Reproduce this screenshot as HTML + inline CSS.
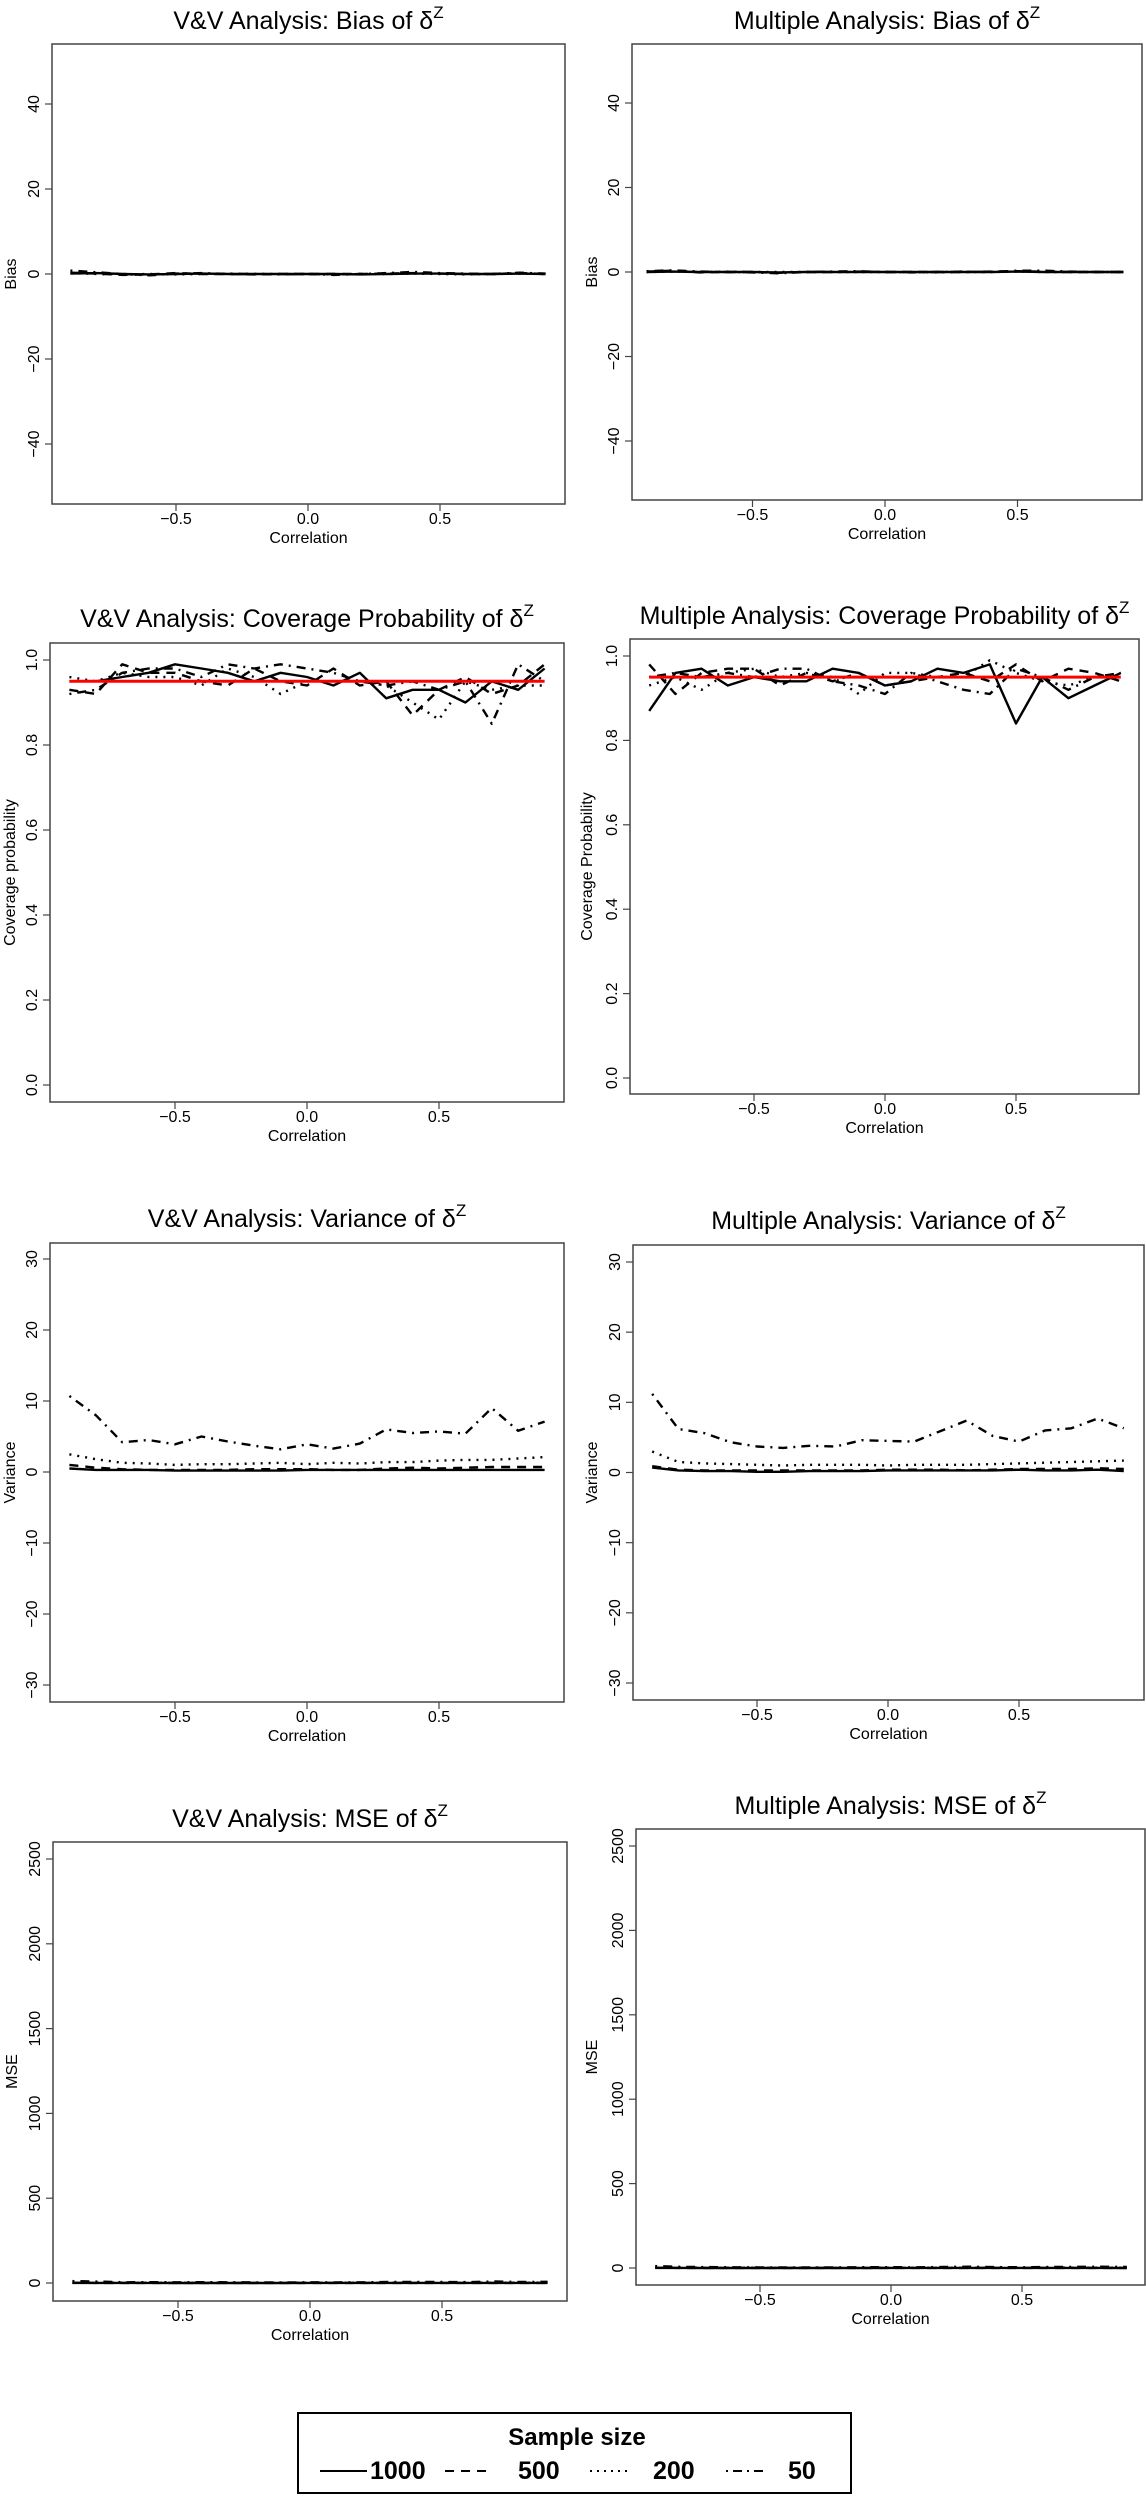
<!DOCTYPE html>
<html><head><meta charset="utf-8"><style>
html,body{margin:0;padding:0;background:#fff;}
svg{display:block;font-family:"Liberation Sans",Arial,sans-serif;}
</style></head><body>
<svg id="fig" width="1146" height="2500" viewBox="0 0 1146 2500" xmlns="http://www.w3.org/2000/svg"></svg>
<script>
// ---- data ----
const correlations = [-0.9,-0.8,-0.7,-0.6,-0.5,-0.4,-0.3,-0.2,-0.1,0,0.1,0.2,0.3,0.4,0.5,0.6,0.7,0.8,0.9];
const sampleSizes = ["1000","500","200","50"];

const vvBias1000 = [0.1,0.2,0,-0.1,0,0.1,0,0,0,0,0,-0.1,0,0.1,0.1,0,0,0.1,0];
const vvBias500  = [0.3,0.1,-0.2,-0.1,0.2,0,0,-0.1,0,0,0,0,0.1,0.2,0.1,0,0,0.2,0];
const vvBias200  = [0.2,0,-0.1,0,-0.1,0,0.1,0,0,0,-0.1,0,0,0.1,0,-0.1,0,0.1,0];
const vvBias50   = [0.8,0.4,0,-0.3,0.1,0.2,0,0,-0.1,0,-0.2,0,0.2,0.5,0.2,0.1,0,0.3,0.1];
const mBias1000 = [0,0.1,0,0,0,-0.1,0,0,0,0,0,0,0,0,0.1,0,0,0,0];
const mBias500  = [0.1,0.3,-0.1,0,0,-0.2,0,0,0.1,0,0,0,0,0.1,0.2,0.1,0,0,0];
const mBias200  = [0,0.1,0,0.1,0,0,0,0,0,0,0,-0.1,0,0,0.1,0,0,0,0];
const mBias50   = [0.2,0.4,0.1,0,-0.1,-0.3,0,0.1,0.2,0,-0.1,0,0.1,0,0.3,0.3,0.1,0,0];

const vvCov1000 = [0.95,0.95,0.96,0.97,0.99,0.98,0.97,0.95,0.97,0.96,0.94,0.97,0.91,0.93,0.93,0.90,0.95,0.93,0.98];
const vvCov500  = [0.93,0.92,0.99,0.97,0.97,0.95,0.94,0.98,0.95,0.94,0.98,0.94,0.95,0.87,0.93,0.96,0.92,0.94,0.99];
const vvCov200  = [0.96,0.95,0.97,0.96,0.96,0.94,0.98,0.96,0.92,0.95,0.95,0.95,0.94,0.90,0.86,0.95,0.93,0.94,0.94];
const vvCov50   = [0.92,0.93,0.97,0.98,0.98,0.96,0.99,0.98,0.99,0.98,0.97,0.95,0.94,0.95,0.93,0.95,0.85,0.99,0.95];
const mCov1000 = [0.87,0.96,0.97,0.93,0.95,0.94,0.94,0.97,0.96,0.93,0.94,0.97,0.96,0.98,0.84,0.95,0.90,0.93,0.96];
const mCov500  = [0.98,0.91,0.96,0.97,0.97,0.93,0.96,0.94,0.96,0.93,0.94,0.95,0.96,0.94,0.98,0.94,0.97,0.96,0.94];
const mCov200  = [0.93,0.95,0.92,0.96,0.97,0.95,0.96,0.95,0.91,0.96,0.96,0.95,0.95,0.99,0.96,0.94,0.93,0.95,0.95];
const mCov50   = [0.95,0.96,0.95,0.96,0.95,0.97,0.97,0.94,0.93,0.91,0.96,0.94,0.92,0.91,0.97,0.95,0.92,0.95,0.96];
const nominalCoverage = 0.95;

const vvVar1000 = [0.5,0.3,0.3,0.3,0.2,0.2,0.2,0.2,0.2,0.3,0.3,0.3,0.3,0.3,0.3,0.3,0.3,0.3,0.3];
const vvVar500  = [1.0,0.6,0.4,0.3,0.3,0.3,0.3,0.4,0.4,0.4,0.3,0.3,0.5,0.6,0.5,0.6,0.7,0.7,0.7];
const vvVar200  = [2.5,1.8,1.3,1.2,1.0,1.1,1.1,1.2,1.3,1.1,1.3,1.2,1.4,1.4,1.6,1.7,1.7,1.9,2.1];
const vvVar50   = [10.7,8.0,4.2,4.5,3.9,5.0,4.3,3.7,3.2,3.9,3.3,4.0,6.0,5.5,5.7,5.4,9.0,5.8,7.1];
const mVar1000 = [0.7,0.3,0.2,0.2,0.1,0.1,0.2,0.2,0.2,0.3,0.3,0.3,0.3,0.3,0.4,0.3,0.3,0.4,0.2];
const mVar500  = [0.9,0.4,0.3,0.3,0.3,0.3,0.3,0.3,0.3,0.4,0.4,0.4,0.3,0.4,0.5,0.5,0.5,0.6,0.5];
const mVar200  = [3.0,1.5,1.3,1.2,1.1,1.0,1.1,1.1,1.1,1.0,1.1,1.1,1.1,1.2,1.3,1.4,1.5,1.6,1.7];
const mVar50   = [11.2,6.2,5.6,4.3,3.7,3.5,3.8,3.7,4.6,4.5,4.4,5.9,7.4,5.2,4.4,6.0,6.3,7.7,6.3];

const vvMse1000 = [0.5,0.3,0.3,0.3,0.2,0.2,0.2,0.2,0.2,0.3,0.3,0.3,0.3,0.3,0.3,0.3,0.3,0.3,0.3];
const vvMse500  = [1.1,0.6,0.4,0.3,0.3,0.3,0.3,0.4,0.4,0.4,0.3,0.3,0.5,0.6,0.5,0.6,0.7,0.7,0.7];
const vvMse200  = [2.6,1.8,1.3,1.2,1.0,1.1,1.1,1.2,1.3,1.1,1.3,1.2,1.4,1.4,1.6,1.7,1.7,1.9,2.1];
const vvMse50   = [11.4,8.2,4.2,4.6,3.9,5.0,4.3,3.7,3.2,3.9,3.3,4.0,6.0,5.8,5.8,5.4,9.1,5.9,7.1];
const mMse1000 = [0.7,0.3,0.2,0.2,0.1,0.1,0.2,0.2,0.2,0.3,0.3,0.3,0.3,0.3,0.4,0.3,0.3,0.4,0.2];
const mMse500  = [0.9,0.5,0.3,0.3,0.3,0.3,0.3,0.3,0.3,0.4,0.4,0.4,0.3,0.4,0.5,0.5,0.5,0.6,0.5];
const mMse200  = [3.0,1.5,1.3,1.2,1.1,1.0,1.1,1.1,1.1,1.0,1.1,1.1,1.1,1.2,1.3,1.4,1.5,1.6,1.7];
const mMse50   = [11.3,6.3,5.6,4.3,3.7,3.6,3.8,3.7,4.6,4.5,4.4,5.9,7.5,5.2,4.4,6.0,6.3,7.7,6.3];

const biasTicks = [-40,-20,0,20,40];
const covTicks = [0,0.2,0.4,0.6,0.8,1.0];
const varTicks = [-30,-20,-10,0,10,20,30];
const mseTicks = [0,500,1000,1500,2000,2500];
const xTicks = [-0.5,0,0.5];

// ---- drawing ----
const NS = "http://www.w3.org/2000/svg";
const svg = document.getElementById("fig");
function el(tag, attrs, parent){
  const e = document.createElementNS(NS, tag);
  for (const k in attrs) e.setAttribute(k, attrs[k]);
  (parent||svg).appendChild(e);
  return e;
}
const DASH = ["", "9 7", "2 6", "2 6 9 6"];
function fmt(v, dec){ const s = v.toFixed(dec); return s.replace("-", "\u2212"); }

function panel(cfg){
  const g = el("g", {});
  
  
  const sx = v => cfg.x0 + v * cfg.xPerUnit;
  const sy = v => cfg.yA + (v - cfg.vA) * (cfg.yB - cfg.yA) / (cfg.vB - cfg.vA);
  // title
  const t = el("text", {x:(cfg.l+cfg.r)/2, y:cfg.titleY, "text-anchor":"middle", "font-size":25, fill:"#000"}, g);
  
  
  t.appendChild(document.createTextNode(cfg.title + " \u03b4"));
  const sup = el("tspan", {"font-size":17, dy:-11}, t);
  sup.textContent = "Z";
  // box
  const box = el("rect", {x:cfg.l, y:cfg.t, width:cfg.r-cfg.l, height:cfg.b-cfg.t, fill:"none", stroke:"#444", "stroke-width":1.5}, g);
  
  
  // y ticks
  cfg.yTicks.forEach(v => {
    const y = sy(v);
    const tk = el("line", {x1:cfg.l-7, x2:cfg.l, y1:y, y2:y, stroke:"#444", "stroke-width":1.2}, g);
    
    
    const lb = el("text", {x:0, y:0, transform:`translate(${cfg.l-13},${y}) rotate(-90)`, "text-anchor":"middle", "font-size":16}, g);
    
    
    lb.textContent = fmt(v, cfg.yDec);
  });
  // x ticks
  xTicks.forEach(v => {
    const x = sx(v);
    const tk = el("line", {x1:x, x2:x, y1:cfg.b, y2:cfg.b+7, stroke:"#444", "stroke-width":1.2}, g);
    
    
    const lb = el("text", {x:x, y:cfg.b+20, "text-anchor":"middle", "font-size":16}, g);
    
    
    lb.textContent = fmt(v, 1);
  });
  const xl = el("text", {x:(cfg.l+cfg.r)/2, y:cfg.b+39, "text-anchor":"middle", "font-size":16}, g);
  
  
  xl.textContent = "Correlation";
  const yl = el("text", {x:0, y:0, transform:`translate(${cfg.ylabX},${(cfg.t+cfg.b)/2}) rotate(-90)`, "text-anchor":"middle", "font-size":16}, g);
  
  
  yl.textContent = cfg.ylab;
  // series (draw 50 first so solid on top)
  for (let s = cfg.series.length-1; s >= 0; s--){
    const vals = cfg.series[s];
    const pts = correlations.map((c,i) => sx(c).toFixed(1)+","+sy(vals[i]).toFixed(1)).join(" ");
    const pl = el("polyline", {points:pts, fill:"none", stroke:"#000", "stroke-width":2.4, "stroke-linejoin":"round"}, g);
    if (DASH[s]) pl.setAttribute("stroke-dasharray", DASH[s]);
    
    
  }
  if (cfg.ref !== undefined){
    const x1 = sx(correlations[0]), x2 = sx(correlations[correlations.length-1]);
    const rl = el("line", {x1:x1, x2:x2, y1:sy(cfg.ref), y2:sy(cfg.ref), stroke:"#f00", "stroke-width":3}, g);
    
    
  }
}

panel({name:"vv-bias-panel", title:"V&V Analysis: Bias of", ylab:"Bias", l:52,r:565,t:44,b:504, x0:308,xPerUnit:264, yA:104,vA:40,yB:444,vB:-40, yTicks:biasTicks, yDec:0, titleY:29, ylabX:16, series:[vvBias1000,vvBias500,vvBias200,vvBias50]});
panel({name:"multiple-bias-panel", title:"Multiple Analysis: Bias of", ylab:"Bias", l:632,r:1142,t:44,b:500, x0:885,xPerUnit:265, yA:103,vA:40,yB:441,vB:-40, yTicks:biasTicks, yDec:0, titleY:29, ylabX:597, series:[mBias1000,mBias500,mBias200,mBias50]});
panel({name:"vv-coverage-panel", title:"V&V Analysis: Coverage Probability of", ylab:"Coverage probability", l:50,r:564,t:643,b:1102, x0:307,xPerUnit:264, yA:660,vA:1,yB:1085,vB:0, yTicks:covTicks, yDec:1, titleY:627, ylabX:15, series:[vvCov1000,vvCov500,vvCov200,vvCov50], ref:nominalCoverage});
panel({name:"multiple-coverage-panel", title:"Multiple Analysis: Coverage Probability of", ylab:"Coverage Probability", l:630,r:1139,t:639,b:1094, x0:885,xPerUnit:262, yA:656,vA:1,yB:1078,vB:0, yTicks:covTicks, yDec:1, titleY:624, ylabX:592, series:[mCov1000,mCov500,mCov200,mCov50], ref:nominalCoverage});
panel({name:"vv-variance-panel", title:"V&V Analysis: Variance of", ylab:"Variance", l:50,r:564,t:1243,b:1702, x0:307,xPerUnit:264, yA:1259,vA:30,yB:1685,vB:-30, yTicks:varTicks, yDec:0, titleY:1227, ylabX:15, series:[vvVar1000,vvVar500,vvVar200,vvVar50]});
panel({name:"multiple-variance-panel", title:"Multiple Analysis: Variance of", ylab:"Variance", l:633,r:1144,t:1245,b:1700, x0:888,xPerUnit:262, yA:1262,vA:30,yB:1683,vB:-30, yTicks:varTicks, yDec:0, titleY:1229, ylabX:597, series:[mVar1000,mVar500,mVar200,mVar50]});
panel({name:"vv-mse-panel", title:"V&V Analysis: MSE of", ylab:"MSE", l:53,r:567,t:1842,b:2301, x0:310,xPerUnit:264, yA:1859,vA:2500,yB:2283,vB:0, yTicks:mseTicks, yDec:0, titleY:1827, ylabX:17, series:[vvMse1000,vvMse500,vvMse200,vvMse50]});
panel({name:"multiple-mse-panel", title:"Multiple Analysis: MSE of", ylab:"MSE", l:636,r:1145,t:1829,b:2285, x0:891,xPerUnit:262, yA:1846,vA:2500,yB:2268,vB:0, yTicks:mseTicks, yDec:0, titleY:1814, ylabX:597, series:[mMse1000,mMse500,mMse200,mMse50]});

// legend
const lg = el("g", {});


const lr = el("rect", {x:298, y:2413, width:553, height:80, fill:"#fff", stroke:"#000", "stroke-width":2}, lg);


const lt = el("text", {x:577, y:2445, "text-anchor":"middle", "font-size":24, "font-weight":"bold"}, lg);


lt.textContent = "Sample size";
const legLineX = [320, 445, 590, 726];
const legLineW = [47, 43, 40, 42];
const legTextX = [370, 518, 653, 788];
sampleSizes.forEach((s, i) => {
  const ln = el("line", {x1:legLineX[i], x2:legLineX[i]+legLineW[i], y1:2471, y2:2471, stroke:"#000", "stroke-width":2}, lg);
  if (DASH[i]) ln.setAttribute("stroke-dasharray", i===1?"9 7":(i===2?"2 5":"2 5 9 5"));
  
  
  const tx = el("text", {x:legTextX[i], y:2479, "font-size":25, "font-weight":"bold"}, lg);
  
  
  tx.textContent = s;
});
</script>
</body></html>
